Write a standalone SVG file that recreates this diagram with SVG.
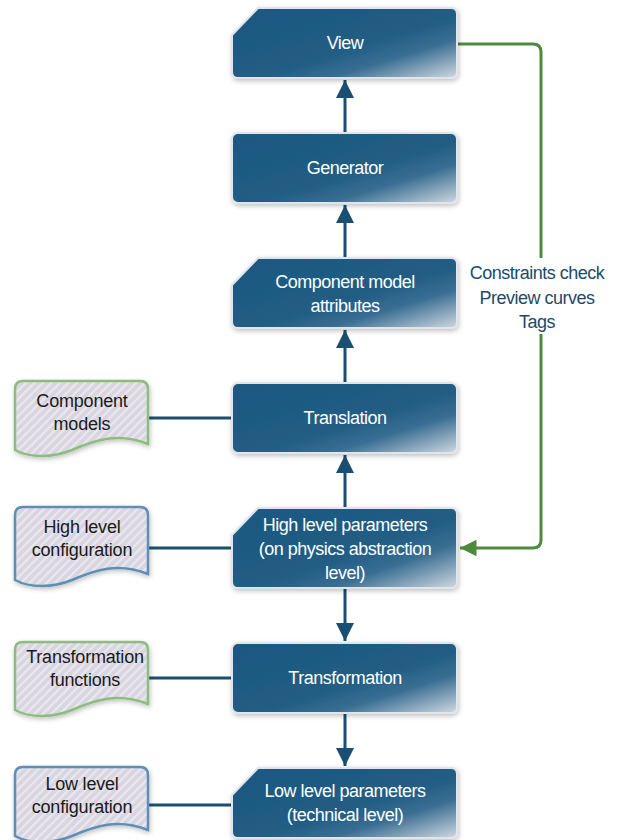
<svg xmlns="http://www.w3.org/2000/svg" width="620" height="840" viewBox="0 0 620 840">
  <defs>
    <linearGradient id="boxGrad" x1="0" y1="0" x2="1" y2="1">
      <stop offset="0" stop-color="#1c5880"/>
      <stop offset="0.55" stop-color="#215d84"/>
      <stop offset="0.72" stop-color="#3a6e93"/>
      <stop offset="1" stop-color="#d0d9e1"/>
    </linearGradient>
    <pattern id="stripes" patternUnits="userSpaceOnUse" width="6" height="6" patternTransform="rotate(45)">
      <rect width="6" height="6" fill="#d8d5e0"/>
      <rect width="2.2" height="6" fill="#e9e7ef"/>
    </pattern>
    <filter id="shadow" x="-10%" y="-10%" width="125%" height="130%">
      <feGaussianBlur in="SourceAlpha" stdDeviation="2.5"/>
      <feOffset dx="1" dy="2" result="b"/>
      <feComponentTransfer><feFuncA type="linear" slope="0.25"/></feComponentTransfer>
      <feMerge><feMergeNode/><feMergeNode in="SourceGraphic"/></feMerge>
    </filter>
    <marker id="arrBlue" viewBox="0 0 10 10" refX="10" refY="5" markerWidth="6" markerHeight="6" markerUnits="strokeWidth" orient="auto">
      <path d="M0,0 L10,5 L0,10 Z" fill="#1a4f72"/>
    </marker>
    <marker id="arrGreen" viewBox="0 0 10 10" refX="10" refY="5" markerWidth="5.5" markerHeight="5.5" markerUnits="strokeWidth" orient="auto">
      <path d="M0,0 L10,5 L0,10 Z" fill="#4e8a3c"/>
    </marker>
    <path id="chamfer" d="M0,27 L26,0 H219 Q225,0 225,6 V64 Q225,70 219,70 H6 Q0,70 0,64 Z"/>
  </defs>
  <style>
    .box { fill: url(#boxGrad); stroke: #dfe5ea; stroke-width: 2; filter: url(#shadow); }
    .doc { fill: url(#stripes); stroke-width: 2.5; filter: url(#shadow); }
    .docG { stroke: #8cbd7c; }
    .docB { stroke: #5e8fb4; }
    .bt { font-family: "Liberation Sans", Arial, sans-serif; font-size: 18px; fill: #ffffff; text-anchor: middle; letter-spacing: -0.5px; }
    .dt { font-family: "Liberation Sans", Arial, sans-serif; font-size: 18px; fill: #1a1a1a; text-anchor: middle; letter-spacing: -0.2px; }
    .lt { font-family: "Liberation Sans", Arial, sans-serif; font-size: 18px; fill: #1d4a6a; text-anchor: middle; letter-spacing: -0.5px; }
    .cb { stroke: #1a4f72; stroke-width: 3; fill: none; }
    .cg { stroke: #4e8a3c; stroke-width: 3; fill: none; }
  </style>

  <g id="connectors">
    <line class="cb" x1="345" y1="133" x2="345" y2="80" marker-end="url(#arrBlue)"/>
    <line class="cb" x1="345" y1="258" x2="345" y2="205" marker-end="url(#arrBlue)"/>
    <line class="cb" x1="345" y1="383" x2="345" y2="330" marker-end="url(#arrBlue)"/>
    <line class="cb" x1="345" y1="508" x2="345" y2="455" marker-end="url(#arrBlue)"/>
    <line class="cb" x1="345" y1="588" x2="345" y2="641" marker-end="url(#arrBlue)"/>
    <line class="cb" x1="345" y1="713" x2="345" y2="766" marker-end="url(#arrBlue)"/>
    <line class="cb" x1="148" y1="418" x2="232" y2="418"/>
    <line class="cb" x1="148" y1="548" x2="232" y2="548"/>
    <line class="cb" x1="148" y1="678" x2="232" y2="678"/>
    <line class="cb" x1="148" y1="805" x2="232" y2="805"/>
    <path class="cg" d="M458,44 H533 Q541,44 541,52 V540 Q541,548 533,548 H460" marker-end="url(#arrGreen)"/>
    <rect x="466" y="258" width="142" height="76" fill="#ffffff"/>
    <text class="lt" x="537" y="279">Constraints check</text>
    <text class="lt" x="537" y="304">Preview curves</text>
    <text class="lt" x="537" y="328">Tags</text>
  </g>

  <g id="view">
    <use href="#chamfer" class="box" transform="translate(232,8)"/>
    <text class="bt" x="345" y="49">View</text>
  </g>
  <g id="generator">
    <rect class="box" x="232" y="133" width="225" height="70" rx="6"/>
    <text class="bt" x="345" y="174">Generator</text>
  </g>
  <g id="component-model-attributes">
    <use href="#chamfer" class="box" transform="translate(232,258)"/>
    <text class="bt" x="345" y="288">Component model</text>
    <text class="bt" x="345" y="312">attributes</text>
  </g>
  <g id="translation">
    <rect class="box" x="232" y="383" width="225" height="70" rx="6"/>
    <text class="bt" x="345" y="424">Translation</text>
  </g>
  <g id="high-level-parameters">
    <path class="box" d="M232,535 L258,508 H451 Q457,508 457,514 V582 Q457,588 451,588 H238 Q232,588 232,582 Z"/>
    <text class="bt" x="345" y="531">High level parameters</text>
    <text class="bt" x="345" y="555">(on physics abstraction</text>
    <text class="bt" x="345" y="579">level)</text>
  </g>
  <g id="transformation">
    <rect class="box" x="232" y="643" width="225" height="70" rx="6"/>
    <text class="bt" x="345" y="684">Transformation</text>
  </g>
  <g id="low-level-parameters">
    <use href="#chamfer" class="box" transform="translate(232,768)"/>
    <text class="bt" x="345" y="797">Low level parameters</text>
    <text class="bt" x="345" y="821">(technical level)</text>
  </g>

  <g id="component-models">
    <path class="doc docG" d="M15,389 Q15,381 23,381 H140 Q148,381 148,389 V444 C118,432 95,440 72,450 C52,458 30,458 15,450 Z"/>
    <text class="dt" x="82" y="407">Component</text>
    <text class="dt" x="82" y="430">models</text>
  </g>
  <g id="high-level-configuration">
    <path class="doc docB" d="M15,515 Q15,507 23,507 H140 Q148,507 148,515 V574 C118,562 95,570 72,580 C52,588 30,588 15,580 Z"/>
    <text class="dt" x="82" y="533">High level</text>
    <text class="dt" x="82" y="556">configuration</text>
  </g>
  <g id="transformation-functions">
    <path class="doc docG" d="M15,650 Q15,642 23,642 H140 Q148,642 148,650 V704 C118,692 95,700 72,710 C52,718 30,718 15,710 Z"/>
    <text class="dt" x="85" y="663">Transformation</text>
    <text class="dt" x="85" y="686">functions</text>
  </g>
  <g id="low-level-configuration">
    <path class="doc docB" d="M15,775 Q15,767 23,767 H140 Q148,767 148,775 V830 C118,818 95,826 72,836 C52,844 30,844 15,836 Z"/>
    <text class="dt" x="82" y="790">Low level</text>
    <text class="dt" x="82" y="813">configuration</text>
  </g>
</svg>
